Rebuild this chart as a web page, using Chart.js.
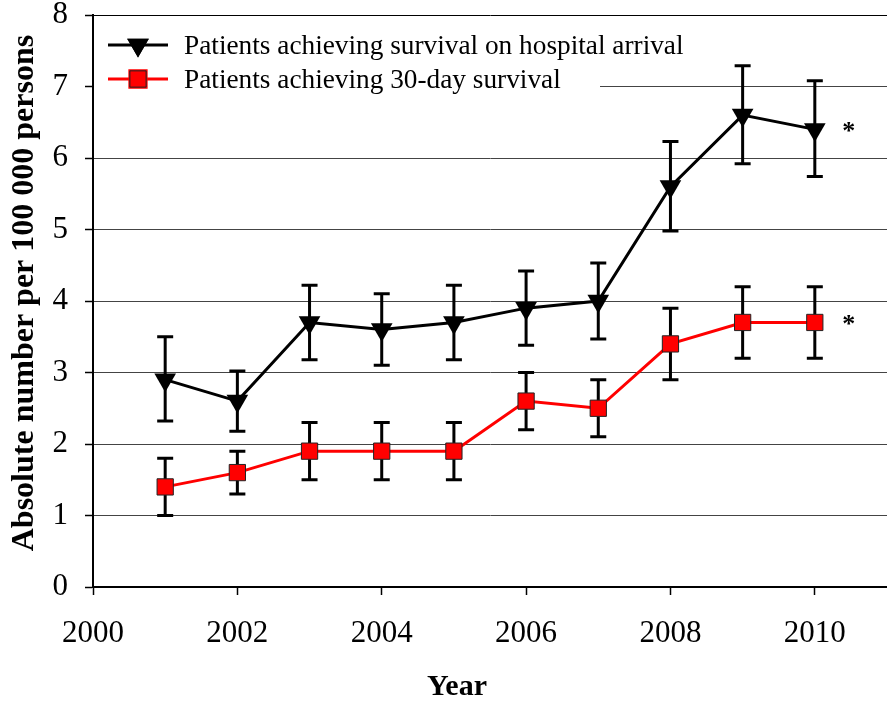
<!DOCTYPE html>
<html>
<head>
<meta charset="utf-8">
<script src="https://cdn.jsdelivr.net/npm/chart.js@4.4.1/dist/chart.umd.min.js"></script>
<style>
  html, body { margin: 0; padding: 0; background: #fff; }
  #wrap { width: 887px; height: 703px; }
</style>
</head>
<body>
<div id="wrap"><canvas id="c" width="887" height="703"></canvas></div>
<script>
const years = [2001, 2002, 2003, 2004, 2005, 2006, 2007, 2008, 2009, 2010];
const arrivalLabel = 'Patients achieving survival on hospital arrival';
const arrivalMean = [2.9, 2.6, 3.7, 3.6, 3.7, 3.9, 4.0, 5.6, 6.6, 6.4];
const arrivalLow  = [2.32, 2.18, 3.18, 3.10, 3.18, 3.38, 3.47, 4.98, 5.92, 5.74];
const arrivalHigh = [3.50, 3.02, 4.22, 4.10, 4.22, 4.42, 4.53, 6.23, 7.29, 7.08];
const day30Label = 'Patients achieving 30-day survival';
const day30Mean = [1.4, 1.6, 1.9, 1.9, 1.9, 2.6, 2.5, 3.4, 3.7, 3.7];
const day30Low  = [1.0, 1.3, 1.5, 1.5, 1.5, 2.2, 2.1, 2.9, 3.2, 3.2];
const day30High = [1.8, 1.9, 2.3, 2.3, 2.3, 3.0, 2.9, 3.9, 4.2, 4.2];
const xTicks = [2000, 2002, 2004, 2006, 2008, 2010];
const yTicks = [0, 1, 2, 3, 4, 5, 6, 7, 8];
const yTitle = 'Absolute number per 100 000 persons';
const xTitle = 'Year';
const significance = [{ x: 2010.47, y: 6.4, text: '*' }, { x: 2010.47, y: 3.7, text: '*' }];

const SERIF = '"Liberation Serif", "Times New Roman", serif';

const errorBars = {
  id: 'errorBars',
  beforeDatasetsDraw(chart) {
    const ctx = chart.ctx;
    const xs = chart.scales.x, ys = chart.scales.y;
    const sets = [[arrivalLow, arrivalHigh], [day30Low, day30High]];
    ctx.save();
    ctx.strokeStyle = '#000';
    ctx.lineWidth = 3;
    ctx.lineCap = 'butt';
    sets.forEach(([lo, hi]) => {
      years.forEach((yr, i) => {
        const px = xs.getPixelForValue(yr);
        const pl = ys.getPixelForValue(lo[i]);
        const ph = ys.getPixelForValue(hi[i]);
        ctx.beginPath();
        ctx.moveTo(px, pl); ctx.lineTo(px, ph);
        ctx.moveTo(px - 8, pl); ctx.lineTo(px + 8, pl);
        ctx.moveTo(px - 8, ph); ctx.lineTo(px + 8, ph);
        ctx.stroke();
      });
    });
    // white legend box covering gridlines
    const a = chart.chartArea;
    ctx.fillStyle = '#fff';
    ctx.fillRect(a.left + 1, a.top + 1, 600 - a.left - 1, 100 - a.top - 1);
    ctx.restore();
  },
  afterDatasetsDraw(chart) {
    const ctx = chart.ctx;
    const xs = chart.scales.x, ys = chart.scales.y;
    ctx.save();
    // significance marks
    ctx.fillStyle = '#000';
    ctx.font = 'bold 26px ' + SERIF;
    ctx.textAlign = 'center';
    ctx.textBaseline = 'middle';
    significance.forEach(s => {
      ctx.fillText(s.text, xs.getPixelForValue(s.x), ys.getPixelForValue(s.y) + 3);
    });
    // legend
    const items = chart.data.datasets;
    const rows = [45, 79];
    items.forEach((ds, i) => {
      const y = rows[i];
      ctx.strokeStyle = ds.borderColor;
      ctx.lineWidth = 3;
      ctx.beginPath();
      ctx.moveTo(108, y); ctx.lineTo(168, y);
      ctx.stroke();
      Chart.helpers.drawPoint(ctx, {
        pointStyle: ds.pointStyle,
        rotation: ds.pointRotation || 0,
        radius: ds.pointRadius,
        borderWidth: ds.pointBorderWidth
      }, 138, y);
      ctx.fillStyle = ds.pointBackgroundColor;
      ctx.strokeStyle = ds.pointBorderColor;
      ctx.lineWidth = ds.pointBorderWidth;
      ctx.fill();
      if (ds.pointBorderWidth) ctx.stroke();
      ctx.fillStyle = '#000';
      ctx.font = '27.3px ' + SERIF;
      ctx.textAlign = 'left';
      ctx.textBaseline = 'middle';
      ctx.fillText(ds.label, 184, y + 2);
    });
    // axis titles
    ctx.fillStyle = '#000';
    ctx.font = 'bold 30px ' + SERIF;
    ctx.textAlign = 'center';
    ctx.textBaseline = 'alphabetic';
    ctx.fillText(xTitle, 457, 695);
    ctx.save();
    ctx.translate(33, 293);
    ctx.rotate(-Math.PI / 2);
    ctx.font = 'bold 32px ' + SERIF;
    ctx.textAlign = 'center';
    ctx.textBaseline = 'alphabetic';
    ctx.fillText(yTitle, 0, 0);
    ctx.restore();
    ctx.restore();
  }
};

new Chart(document.getElementById('c'), {
  type: 'line',
  data: {
    datasets: [
      {
        label: arrivalLabel,
        data: years.map((x, i) => ({ x, y: arrivalMean[i] })),
        borderColor: '#000',
        borderWidth: 3,
        pointStyle: 'triangle',
        pointRotation: 180,
        pointRadius: 12.5,
        pointHoverRadius: 12.5,
        pointBackgroundColor: '#000',
        pointBorderColor: '#000',
        pointBorderWidth: 0,
        tension: 0
      },
      {
        label: day30Label,
        data: years.map((x, i) => ({ x, y: day30Mean[i] })),
        borderColor: '#ff0000',
        borderWidth: 3,
        pointStyle: 'rect',
        pointRadius: 11.5,
        pointHoverRadius: 11.5,
        pointBackgroundColor: '#ff0000',
        pointBorderColor: '#222',
        pointBorderWidth: 1,
        tension: 0
      }
    ]
  },
  options: {
    responsive: false,
    animation: false,
    events: [],
    layout: { autoPadding: false, padding: { top: 15, right: 0, left: 0, bottom: 0 } },
    plugins: { legend: { display: false }, tooltip: { enabled: false } },
    scales: {
      x: {
        type: 'linear',
        min: 2000,
        max: 2011,
        afterBuildTicks(scale) { scale.ticks = xTicks.map(v => ({ value: v })); },
        afterFit(scale) { scale.height = 116; scale.paddingLeft = 0; scale.paddingRight = 0; },
        ticks: {
          color: '#000',
          font: { family: SERIF, size: 31 },
          padding: 20,
          maxRotation: 0,
          autoSkip: false,
          callback: v => String(v)
        },
        grid: { drawOnChartArea: false, drawTicks: true, tickLength: 8, tickColor: '#000', tickWidth: 1.5 },
        border: { color: '#000', width: 2 },
        title: { display: false }
      },
      y: {
        min: 0,
        max: 8,
        afterBuildTicks(scale) { scale.ticks = yTicks.map(v => ({ value: v })); },
        afterFit(scale) { scale.width = 93; scale.paddingTop = 0; scale.paddingBottom = 0; },
        ticks: {
          color: '#000',
          font: { family: SERIF, size: 31 },
          padding: 17,
          autoSkip: false,
          callback: v => String(v)
        },
        grid: {
          color: c => (c.tick && c.tick.value === 8) ? '#000' : '#444',
          lineWidth: 1,
          drawTicks: true,
          tickLength: 8,
          tickColor: '#000',
          tickWidth: 1.5
        },
        border: { color: '#000', width: 2 },
        title: { display: false }
      }
    }
  },
  plugins: [errorBars]
});
</script>
</body>
</html>
